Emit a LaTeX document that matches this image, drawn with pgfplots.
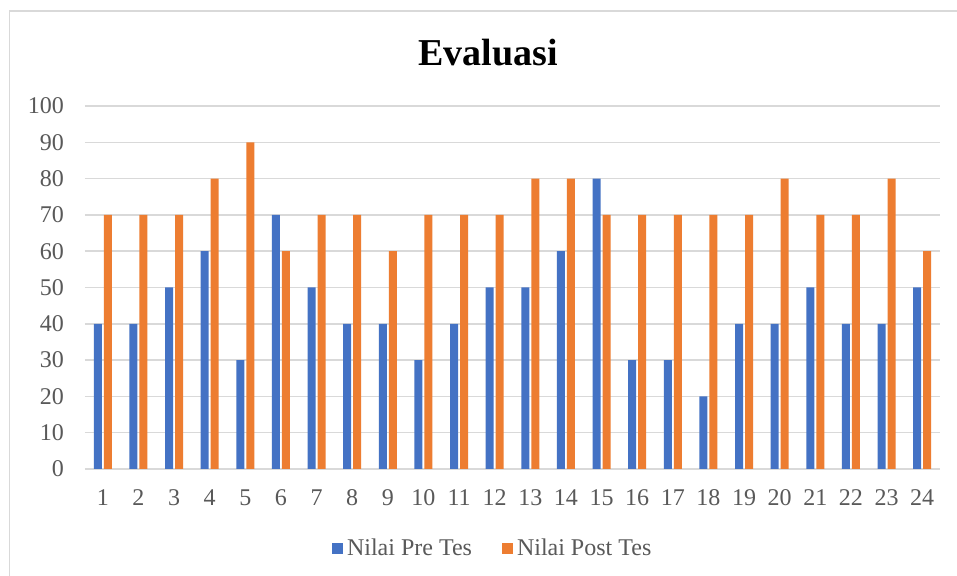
\documentclass[border=0pt]{standalone}
\usepackage{fontspec}
\setmainfont{Liberation Serif}
\usepackage{pgfplots}
\pgfplotsset{compat=1.18}
\definecolor{bblue}{HTML}{4472C4}
\definecolor{borange}{HTML}{ED7D31}
\definecolor{gridc}{HTML}{D9D9D9}
\definecolor{txt}{HTML}{595959}
\begin{document}
\begin{tikzpicture}
\useasboundingbox (0pt,0pt) rectangle (478.5pt,288pt);
\fill[white] (0pt,0pt) rectangle (478.5pt,288pt);
\draw[gridc, line width=0.6pt] (4.75pt,-5pt) rectangle (490pt,282.5pt);
\node[font=\fontsize{19}{22}\bfseries\selectfont, text=black] at (244pt,261.5pt) {Evaluasi};
\begin{axis}[
  at={(42.5pt,53.5pt)}, anchor=south west, scale only axis,
  width=427.5pt, height=181.5pt,
  ybar=1pt, bar width=4pt,
  xmin=0.5, xmax=24.5, ymin=0, ymax=100,
  ytick={0,10,...,100}, xtick={1,...,24},
  axis line style={draw=none}, major tick length=0pt,
  ymajorgrids, grid style={gridc, line width=0.75pt},
  tick label style={font=\fontsize{12}{14}\selectfont, text=txt},
  /pgf/number format/assume math mode=true,
  xticklabel style={anchor=base, yshift=-18.5pt},
  yticklabel style={xshift=-7pt},
  legend columns=2,
  legend style={at={(0.478,-0.2204)}, anchor=center, draw=none, fill=none,
    font=\fontsize{12}{14}\selectfont, text=txt,
    /tikz/every even column/.append style={column sep=13pt}},
  legend image code/.code={\fill[#1] (0pt,-2.75pt) rectangle (5.5pt,2.75pt);},
]
\addplot[fill=bblue, draw=none] coordinates {
(1,40) (2,40) (3,50) (4,60) (5,30) (6,70) (7,50) (8,40) (9,40) (10,30) (11,40) (12,50)
(13,50) (14,60) (15,80) (16,30) (17,30) (18,20) (19,40) (20,40) (21,50) (22,40) (23,40) (24,50)};
\addplot[fill=borange, draw=none] coordinates {
(1,70) (2,70) (3,70) (4,80) (5,90) (6,60) (7,70) (8,70) (9,60) (10,70) (11,70) (12,70)
(13,80) (14,80) (15,70) (16,70) (17,70) (18,70) (19,70) (20,80) (21,70) (22,70) (23,80) (24,60)};
\legend{Nilai Pre Tes, Nilai Post Tes}
\end{axis}
\end{tikzpicture}
\end{document}
